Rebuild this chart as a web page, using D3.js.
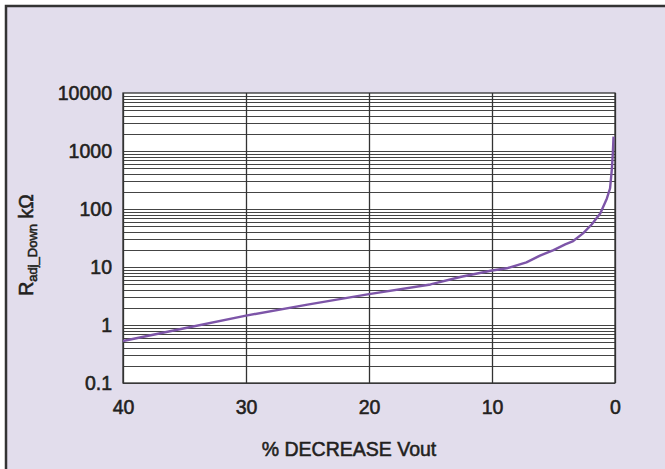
<!DOCTYPE html>
<html>
<head>
<meta charset="utf-8">
<title>Radj_Down vs % decrease Vout</title>
<script src="https://d3js.org/d3.v7.min.js"></script>
<style>
  body { margin: 0; background: #fff; }
  text { font-family: "Liberation Sans", Arial, sans-serif; fill: #231f20; stroke: #231f20; stroke-width: 0.55px; }
</style>
</head>
<body>
<div id="chart"></div>
<script>
// data
var pctDecrease = [40, 35, 30, 25, 20, 15, 12.5, 10, 8.8, 7.2, 6.1, 5.0, 4.05, 3.4, 2.6, 1.9, 1.2, 0.66, 0.4, 0.25, 0.17, 0.12];
var radjDown = [0.53, 0.88, 1.45, 2.25, 3.4, 5.0, 6.8, 8.7, 9.5, 12.0, 15.7, 19.6, 24.6, 28, 38, 54, 84, 152, 228, 500, 980, 1770];
var xTicks = [40, 30, 20, 10, 0];
var yTicks = [0.1, 1, 10, 100, 1000, 10000];
var yTickLabels = ["0.1", "1", "10", "100", "1000", "10000"];

var W = 665, H = 469;
var margin = {top: 93, left: 123, right: 50, bottom: 86};
var width = W - margin.left - margin.right,   // ~492
    height = H - margin.top - margin.bottom;  // ~290

var svg = d3.select("#chart").append("svg")
    .attr("width", W)
    .attr("height", H);

// outer frame
svg.append("rect")
    .attr("x", 6).attr("y", 6)
    .attr("width", W + 10).attr("height", H + 10)
    .attr("fill", "#e2ddec")
    .attr("stroke", "#333")
    .attr("stroke-width", 2.5);

var g = svg.append("g")
    .attr("transform", "translate(" + margin.left + "," + margin.top + ")");

var x = d3.scaleLinear().domain([40, 0]).range([0, width]);
var y = d3.scaleLog().domain([0.1, 10000]).range([height, 0]);

g.append("rect")
    .attr("width", width).attr("height", height)
    .attr("fill", "#fff");

// horizontal grid, every minor step of the log scale
var minor = [];
for (var e = -1; e < 4; e++) {
    for (var m = 1; m < 10; m++) minor.push(m * Math.pow(10, e));
}
g.selectAll(".hgrid")
    .data(minor)
    .enter().append("line")
    .attr("class", "hgrid")
    .attr("x1", 0).attr("x2", width)
    .attr("y1", function(d) { return Math.round(y(d)) + 0.5; })
    .attr("y2", function(d) { return Math.round(y(d)) + 0.5; })
    .attr("stroke", "#444")
    .attr("stroke-width", 1);

// vertical grid
g.selectAll(".vgrid")
    .data(xTicks)
    .enter().append("line")
    .attr("class", "vgrid")
    .attr("x1", function(d) { return Math.round(x(d)) + 0.5; })
    .attr("x2", function(d) { return Math.round(x(d)) + 0.5; })
    .attr("y1", 0).attr("y2", height)
    .attr("stroke", "#333")
    .attr("stroke-width", 1.3);

g.append("rect")
    .attr("width", width).attr("height", height)
    .attr("fill", "none")
    .attr("stroke", "#333")
    .attr("stroke-width", 1.3);

// curve
var line = d3.line()
    .x(function(d, i) { return x(pctDecrease[i]); })
    .y(function(d) { return y(d); });

g.append("path")
    .datum(radjDown)
    .attr("d", line)
    .attr("fill", "none")
    .attr("stroke", "#7d55a8")
    .attr("stroke-width", 2.4)
    .attr("stroke-linejoin", "round");

// axes (labels only, no domain / ticks)
var xAxis = g.append("g")
    .attr("transform", "translate(0," + height + ")")
    .call(d3.axisBottom(x).tickValues(xTicks).tickSize(0).tickPadding(17));
var yAxis = g.append("g")
    .call(d3.axisLeft(y).tickValues(yTicks).tickSize(0).tickPadding(11)
        .tickFormat(function(d, i) { return yTickLabels[i]; }));

[xAxis, yAxis].forEach(function(a) {
    a.select(".domain").remove();
    a.selectAll("text")
        .attr("font-family", "Liberation Sans, Arial, sans-serif")
        .attr("font-size", "19.5px")
        .attr("fill", "#231f20");
});
xAxis.selectAll("text").attr("dy", "0.71em");

// axis titles
g.append("text")
    .attr("text-anchor", "middle")
    .attr("x", width / 2 - 20)
    .attr("y", height + 73)
    .attr("font-size", "19.5px")
    .text("% DECREASE Vout");

var yt = g.append("text")
    .attr("text-anchor", "middle")
    .attr("transform", "translate(" + (33 - margin.left) + "," + (245 - margin.top) + ") rotate(-90)")
    .attr("font-size", "19.5px");
yt.append("tspan").text("R");
yt.append("tspan").attr("font-size", "13px").attr("dy", "4").text("adj_Down");
yt.append("tspan").attr("dy", "-4").text(" k\u03A9");
</script>
</body>
</html>
